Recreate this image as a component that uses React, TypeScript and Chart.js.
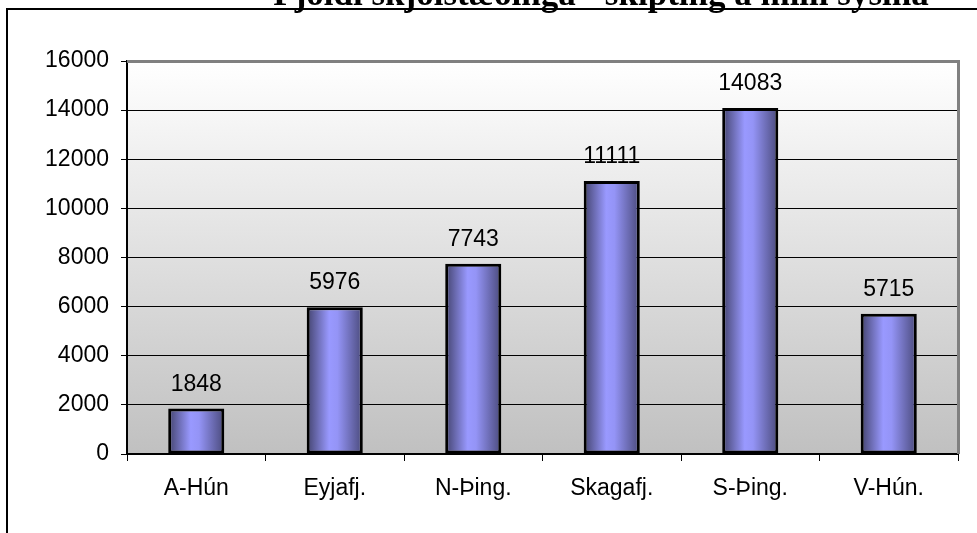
import React, { useEffect, useRef } from "react";
import { Chart, registerables } from "chart.js";

Chart.register(...registerables);

const TITLE = "Fjöldi skjólstæðinga - skipting á milli sýslna";
const categories = ["A-Hún", "Eyjafj.", "N-Þing.", "Skagafj.", "S-Þing.", "V-Hún."];
const values = [1848, 5976, 7743, 11111, 14083, 5715];
const yTicks = [0, 2000, 4000, 6000, 8000, 10000, 12000, 14000, 16000];

const FONT = "'Liberation Sans', Arial, sans-serif";
const FS = 23;

const decorPlugin = {
  id: "decor",
  beforeDraw(chart: any) {
    const { ctx, chartArea } = chart;
    if (!chartArea) return;
    const { left, top, right, bottom } = chartArea;
    ctx.save();
    const g = ctx.createLinearGradient(0, top, 0, bottom);
    g.addColorStop(0, "#ffffff");
    g.addColorStop(1, "#c0c0c0");
    ctx.fillStyle = g;
    ctx.fillRect(left, top, right - left, bottom - top);
    ctx.restore();
  },
  beforeDatasetsDraw(chart: any) {
    const { ctx, chartArea } = chart;
    const { left, top, right, bottom } = chartArea;
    ctx.save();
    ctx.fillStyle = "#808080";
    ctx.fillRect(left, top - 1, right - left + 2, 3);
    ctx.fillRect(right - 1, top - 1, 3, bottom - top + 1);
    ctx.restore();
  },
  afterDatasetsDraw(chart: any) {
    const { ctx } = chart;
    const meta = chart.getDatasetMeta(0);
    ctx.save();
    ctx.fillStyle = "#000";
    ctx.font = `${FS}px ${FONT}`;
    ctx.textAlign = "center";
    ctx.textBaseline = "alphabetic";
    meta.data.forEach((el: any, i: number) => {
      ctx.fillText(String(values[i]), el.x, el.y - 18);
    });
    ctx.restore();
  },
  afterDraw(chart: any) {
    const { ctx } = chart;
    ctx.save();
    ctx.fillStyle = "#000";
    ctx.fillRect(6, 8, 971, 2);
    ctx.fillRect(6, 8, 2, 525);
    ctx.font = `bold 35px 'Liberation Serif', 'Times New Roman', serif`;
    ctx.textAlign = "center";
    ctx.textBaseline = "alphabetic";
    ctx.fillText(TITLE, 601, 5);
    ctx.restore();
  },
};

export default function App() {
  const ref = useRef<HTMLCanvasElement>(null);
  useEffect(() => {
    if (!ref.current) return;
    const chart = new Chart(ref.current, {
      type: "bar",
      data: {
        labels: categories,
        datasets: [
          {
            data: values,
            backgroundColor: (c: any) => {
              const ch = c.chart;
              const xs = ch.scales && ch.scales.x;
              if (!ch.chartArea || !xs || c.dataIndex === undefined) return "#9999ff";
              const cx = xs.getPixelForValue(c.dataIndex);
              const w = (xs.width / categories.length) * 0.4;
              const g = ch.ctx.createLinearGradient(cx - w / 2, 0, cx + w / 2, 0);
              g.addColorStop(0, "#44446f");
              g.addColorStop(0.4, "#9999ff");
              g.addColorStop(0.55, "#9494f6");
              g.addColorStop(1, "#4b4b7d");
              return g;
            },
            borderColor: "#000",
            borderWidth: 3,
            borderSkipped: false,
            categoryPercentage: 1,
            barPercentage: 0.405,
          },
        ],
      },
      options: {
        animation: false,
        responsive: true,
        maintainAspectRatio: false,
        layout: { padding: { top: 61, right: 19, left: 0, bottom: 0 } },
        plugins: {
          legend: { display: false },
          tooltip: { enabled: false },
          title: { display: false },
        },
        scales: {
          x: {
            afterFit: (s: any) => {
              s.height = 79;
            },
            grid: {
              drawOnChartArea: false,
              drawTicks: true,
              tickLength: 7,
              tickColor: "#000",
              offset: true,
            },
            border: { display: true, color: "#000", width: 2 },
            ticks: { color: "#000", font: { family: FONT, size: FS }, padding: 14 },
          },
          y: {
            min: 0,
            max: 16000,
            afterFit: (s: any) => {
              s.width = 127;
            },
            afterBuildTicks: (s: any) => {
              s.ticks = yTicks.map((v) => ({ value: v }));
            },
            grid: { color: "#000", lineWidth: 1, tickLength: 6, tickColor: "#000" },
            border: { display: true, color: "#000", width: 2 },
            ticks: {
              color: "#000",
              font: { family: FONT, size: FS },
              padding: 12,
              callback: (v: any) => String(v),
            },
          },
        },
      },
      plugins: [decorPlugin],
    });
    return () => chart.destroy();
  }, []);
  return (
    <div style={{ position: "absolute", left: 0, top: 0, width: 977, height: 533, background: "#fff" }}>
      <canvas ref={ref} />
    </div>
  );
}
